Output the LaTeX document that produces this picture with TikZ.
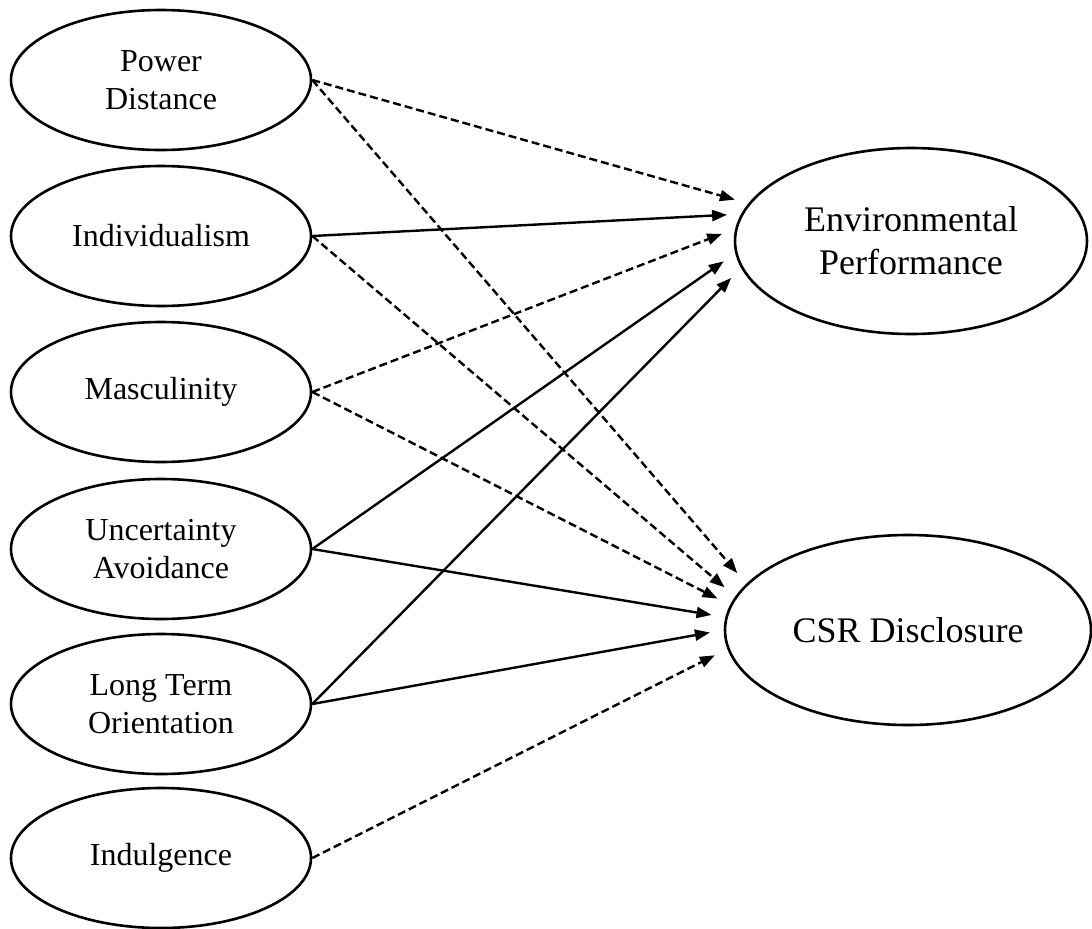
\documentclass[tikz,border=0pt]{standalone}
\usepackage{fontspec}
\setmainfont{Liberation Serif}
\usetikzlibrary{shapes.geometric,arrows.meta}
\begin{document}
\begin{tikzpicture}[x=0.5pt,y=-0.5pt,
    factor/.style={ellipse,draw,line width=1.3pt,inner sep=0pt,align=center,
        minimum width=150pt,minimum height=70pt,font=\fontsize{16}{19}\selectfont},
    outcome/.style={ellipse,draw,line width=1.3pt,inner sep=0pt,align=center,
        font=\fontsize{18}{21.5}\selectfont},
    effect/.style={-{Triangle[length=7.5pt,width=5.5pt]},line width=1.2pt,shorten >=7pt},
    noeffect/.style={effect,dash pattern=on 4pt off 2pt}]
\useasboundingbox (0,0) rectangle (1092,928);
\node[factor] (pd)    at (161,80)  {Power\\Distance};
\node[factor] (ind)   at (161,236) {Individualism};
\node[factor] (mas)   at (161,392) {Masculinity};
\node[factor] (ua)    at (161,549) {Uncertainty\\Avoidance};
\node[factor] (lto)   at (161,704) {Long Term\\Orientation};
\node[factor] (indul) at (161,858) {Indulgence};
\node[outcome,minimum width=176pt,minimum height=93pt] (ep)  at (911,241) {Environmental\\Performance};
\node[outcome,minimum width=183pt,minimum height=95pt] (csr) at (908,630) {CSR Disclosure};
\draw[noeffect] (pd.east)    -- (ep.167.5);
\draw[effect]   (ind.east)   -- (ep.171.5);
\draw[noeffect] (mas.east)   -- (ep.176.7);
\draw[effect]   (ua.east)    -- (ep.184.6);
\draw[effect]   (lto.east)   -- (ep.189.4);
\draw[noeffect] (pd.east)    -- (csr.164.8);
\draw[noeffect] (ind.east)   -- (csr.169.5);
\draw[noeffect] (mas.east)   -- (csr.172.5);
\draw[effect]   (ua.east)    -- (csr.176.5);
\draw[effect]   (lto.east)   -- (csr.180.9);
\draw[noeffect] (indul.east) -- (csr.186.8);
\end{tikzpicture}
\end{document}
